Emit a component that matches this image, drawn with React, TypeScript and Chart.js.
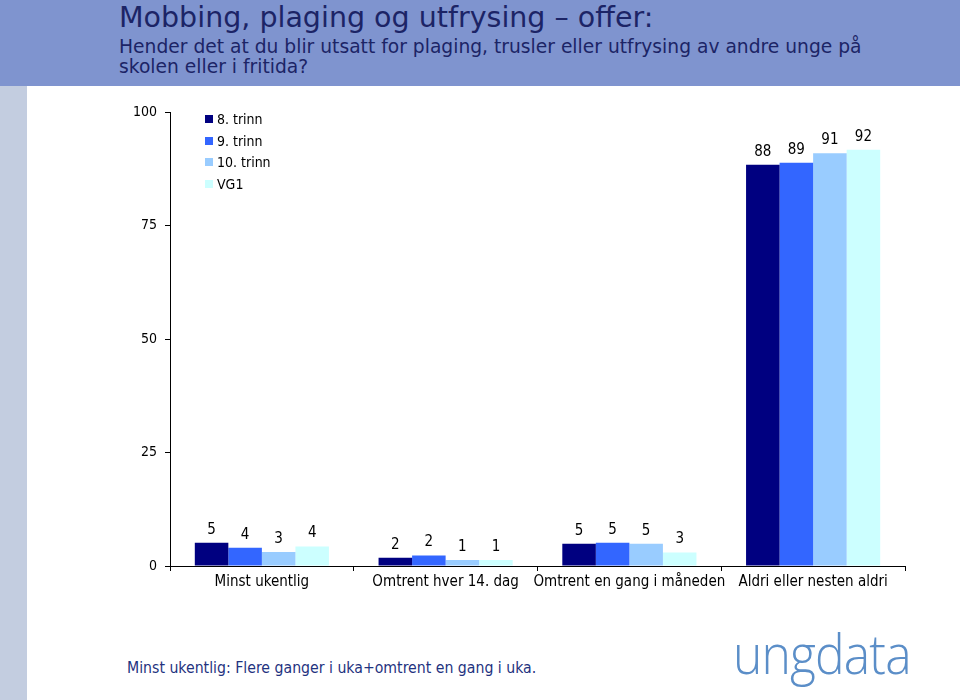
import React, { useEffect, useRef } from "react";
import { Chart, registerables } from "chart.js";

Chart.register(...registerables);

const categories = ["Minst ukentlig", "Omtrent hver 14. dag", "Omtrent en gang i måneden", "Aldri eller nesten aldri"];
const seriesNames = ["8. trinn", "9. trinn", "10. trinn", "VG1"];
const trinn8 = [5.1, 1.8, 4.9, 88.4];
const trinn9 = [4.0, 2.3, 5.1, 88.8];
const trinn10 = [3.1, 1.3, 4.9, 90.9];
const vg1 = [4.3, 1.3, 3.0, 91.7];
const yTicks = [0, 25, 50, 75, 100];
const colors = ["#000080", "#3366ff", "#99ccff", "#ccffff"];

const FONT = "'DejaVu Sans Condensed', 'DejaVu Sans', sans-serif";
const WIDE = "'DejaVu Sans', sans-serif";

const labelPlugin = {
  id: "barLabels",
  afterDatasetsDraw(chart: any) {
    const ctx = chart.ctx;
    ctx.save();
    ctx.font = `15px ${FONT}`;
    ctx.fillStyle = "#000";
    ctx.textAlign = "center";
    ctx.textBaseline = "middle";
    chart.data.datasets.forEach((ds: any, di: number) => {
      const meta = chart.getDatasetMeta(di);
      meta.data.forEach((bar: any, i: number) => {
        ctx.fillText(String(Math.round(ds.data[i])), bar.x, bar.y - 13);
      });
    });
    ctx.restore();
  },
};

export default function App() {
  const ref = useRef<HTMLCanvasElement>(null);
  useEffect(() => {
    if (!ref.current) return;
    const series = [trinn8, trinn9, trinn10, vg1];
    const chart = new Chart(ref.current, {
      type: "bar",
      data: {
        labels: categories,
        datasets: series.map((d, i) => ({
          label: seriesNames[i],
          data: d,
          backgroundColor: colors[i],
          borderWidth: 0,
          categoryPercentage: 0.73,
          barPercentage: 1,
        })),
      },
      options: {
        responsive: false,
        animation: false,
        devicePixelRatio: 1,
        layout: { padding: { left: 0, right: 55, top: 26, bottom: 0 } },
        plugins: { legend: { display: false }, tooltip: { enabled: false } },
        scales: {
          x: {
            grid: { drawOnChartArea: false, offset: true, tickLength: 5, color: "#000" },
            border: { color: "#000", width: 1 },
            ticks: { color: "#000", font: { family: FONT, size: 15 }, padding: 2, maxRotation: 0, autoSkip: false },
            afterFit: (s: any) => { s.height = 60; },
          },
          y: {
            min: 0,
            max: 100,
            afterBuildTicks: (s: any) => { s.ticks = yTicks.map((v) => ({ value: v })); },
            grid: { drawOnChartArea: false, tickLength: 5, color: "#000" },
            border: { color: "#000", width: 1 },
            ticks: { color: "#000", font: { family: FONT, size: 14 }, padding: 8 },
            afterFit: (s: any) => { s.width = 170; },
          },
        },
      },
      plugins: [labelPlugin],
    });
    return () => chart.destroy();
  }, []);

  return (
    <div style={{ position: "absolute", left: 0, top: 0, width: 960, height: 700, background: "#fff", overflow: "hidden", fontFamily: FONT }}>
      <div style={{ position: "absolute", left: 0, top: 0, width: 960, height: 86, background: "#7f94cf" }} />
      <div style={{ position: "absolute", left: 0, top: 86, width: 27, height: 614, background: "#c3cde0" }} />
      <div style={{ position: "absolute", left: 119, top: 0, color: "#1c2466", fontSize: 28.5, lineHeight: "36px", whiteSpace: "nowrap", fontFamily: WIDE }}>
        Mobbing, plaging og utfrysing – offer:
      </div>
      <div style={{ position: "absolute", left: 119, top: 37, color: "#1c2466", fontSize: 18.7, lineHeight: "20px", width: 780, fontFamily: WIDE }}>
        Hender det at du blir utsatt for plaging, trusler eller utfrysing av andre unge på skolen eller i fritida?
      </div>
      <canvas ref={ref} width={960} height={540} style={{ position: "absolute", left: 0, top: 86, width: 960, height: 540 }} />
      {seriesNames.map((n, i) => (
        <div key={n} style={{ position: "absolute", left: 205, top: 110 + i * 21.5, height: 18, display: "flex", alignItems: "center", fontSize: 14, color: "#000", whiteSpace: "nowrap" }}>
          <span style={{ display: "inline-block", width: 8, height: 8, background: colors[i], marginRight: 4 }} />
          {n}
        </div>
      ))}
      <div style={{ position: "absolute", left: 127, top: 658, fontSize: 15.7, color: "#1f3380", whiteSpace: "nowrap" }}>
        Minst ukentlig: Flere ganger i uka+omtrent en gang i uka.
      </div>
      <div style={{ position: "absolute", left: 733, top: 620, fontSize: 56, lineHeight: "64px", color: "#5b8ec8", fontWeight: 300, fontFamily: "'Open Sans', Lato, sans-serif", letterSpacing: -1, whiteSpace: "nowrap", transform: "scaleX(0.89)", transformOrigin: "left center" }}>
        ungdata
      </div>
    </div>
  );
}
